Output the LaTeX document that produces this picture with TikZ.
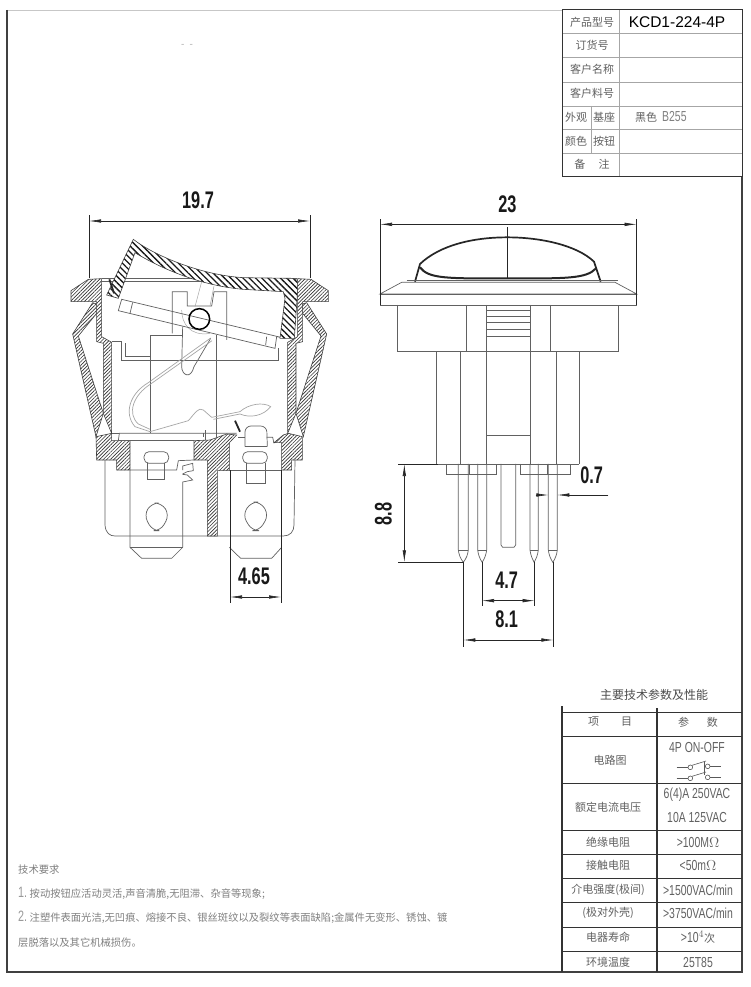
\documentclass[tikz,border=0pt]{standalone}
\usepackage{fontspec}
\usetikzlibrary{arrows.meta,patterns.meta}
\newfontfamily\cjk{Noto Sans CJK SC}
\newfontfamily\dimfont[FakeStretch=0.68]{Liberation Sans}
\newfontfamily\thinfont[FakeStretch=0.72]{Liberation Sans}
\setmainfont{Liberation Sans}
\colorlet{linegray}{black!62}
\colorlet{textgray}{black!62}
\tikzset{
    hatched/.style = {draw=black!75, line width=.6pt, preaction={fill=white}, pattern={Lines[angle=45,distance=2.5pt,line width=.65pt]}, pattern color=black!80},
    rockerhatch/.style = {draw=black!75, line width=.6pt, preaction={fill=white}, pattern={Lines[angle=-45,distance=4.4pt,line width=1.3pt]}, pattern color=black!90},
    part/.style = {draw=linegray, line width=.7pt},
    faint/.style = {draw=black!35, line width=.5pt},
    dimline/.style = {draw=black!85, line width=.6pt, {Latex[length=12pt,width=3.5pt]}-{Latex[length=12pt,width=3.5pt]}},
    extline/.style = {draw=black!85, line width=.6pt},
    dimlabel/.style = {font=\dimfont\bfseries\fontsize{24}{24}\selectfont, text=black!90, inner sep=0pt},
    cell/.style = {font=\cjk\fontsize{11}{11}\selectfont, text=textgray, inner sep=0pt},
    headcell/.style = {font=\cjk\fontsize{12}{12}\selectfont, text=black!70, inner sep=0pt},
    valcell/.style = {font=\thinfont\fontsize{14.5}{14.5}\selectfont, text=textgray, inner sep=0pt},
    notetext/.style = {font=\cjk\fontsize{10.3}{10.3}\selectfont, text=black!50, inner sep=0pt, anchor=west},
    gridthin/.style = {draw=black!35, line width=.8pt},
    gridbold/.style = {draw=black!80, line width=1pt},
}
\begin{document}
\begin{tikzpicture}[x=1pt,y=-1pt]
    \useasboundingbox (0,0) rectangle (750,987);
    \fill[white] (0,0) rectangle (750,987);
    % Frame
    \draw[draw=black!22, line width=1pt] (7,11) -- (562,11);
    \draw[draw=black!75, line width=1.2pt] (7,10) -- (7,972) -- (742,972) -- (742,177);
    \node[text=black!30, inner sep=0pt, font=\fontsize{10}{10}\selectfont] (smudge) at (187,46) {-\,\,\,-};

    % Title table
    \foreach \y in {33,57,82,106,129,153} \draw[gridthin] (562,\y) -- (742,\y);
    \draw[gridthin] (619,10) -- (619,177);
    \draw[gridthin] (591,106) -- (591,153);
    \draw[gridbold] (562,10) rectangle (742,177);
    \node[cell] (tname) at (592,22) {产品型号};
    \node[inner sep=0pt, font=\fontsize{15.5}{15.5}\selectfont] (tmodel) at (677,22) {KCD1-224-4P};
    \node[cell] (torder) at (592,45) {订货号};
    \node[cell] (tclient) at (592,69) {客户名称};
    \node[cell] (tcode) at (592,93) {客户料号};
    \node[cell] (tlooka) at (576,117) {外观};
    \node[cell] (tlookb) at (576,141) {颜色};
    \node[cell] (tbase) at (604,117) {基座};
    \node[cell] (tbtn) at (604,141) {按钮};
    \node[cell] (tnote) at (592,164) {备\hspace{1.2em}注};
    \node[cell, anchor=west] (tcolor) at (635,117) {黑色};
    \node[valcell, anchor=west, text=black!50] (tpaint) at (662,117) {B255};

    % Side view, upper part
    \begin{scope}[shift={(60,180)},x=.33333pt,y=-.33333pt]
        % Frame lines under the rocker
        \draw[part] (125,295) -- (712,295);
        \draw[part] (125,305) -- (712,305);
        \draw[part] (155,485) -- (185,485) -- (185,540) -- (655,540) -- (655,505);
        \draw[part] (195,490) -- (195,530) -- (270,530);
        \draw[part] (500,480) -- (500,335) -- (462,335) -- (455,378) -- (382,378) -- (382,335) -- (337,335) -- (337,460);
        \draw[faint] (425,305) -- (405,380);
        \draw[faint] (462,318) -- (450,378);
        \draw[faint] (365,390) .. controls (365,430) and (390,470) .. (450,460);
        % Contact carrier
        \draw[part] (270,760) -- (270,465) -- (370,465);
        \draw[part] (470,770) -- (470,465);
        \draw[part] (368,440) -- (365,560) .. controls (365,585) and (392,600) .. (402,560) -- (452,475);
        % Spring
        \draw[faint, line width=.7pt] (452,474) -- (265,608) .. controls (210,640) and (190,700) .. (225,740) -- (270,755) -- (385,722) .. controls (405,700) and (415,680) .. (430,690) -- (455,712) -- (540,695) .. controls (565,672) and (610,665) .. (632,680) .. controls (610,708) and (570,715) .. (540,702) -- (460,718);
        \draw[faint, line width=.7pt] (456,482) -- (272,612) .. controls (220,645) and (200,700) .. (235,732) -- (270,748);
        % Rocker plate
        \draw[part] (185,358) -- (675,475) -- (650,470) -- (645,505) -- (175,392) -- cycle;
        \draw[part] (218,367) -- (210,400);
        \draw[part] (620,470) -- (617,495);
        % Rocker
        \draw[rockerhatch] (220,178) .. controls (280,225) and (420,285) .. (550,293) -- (700,295) -- (715,303) -- (703,475) -- (660,475) -- (675,355) -- (670,335) -- (550,328) .. controls (430,318) and (310,270) .. (225,218) -- (175,355) -- (140,345) -- cycle;
        \draw[line width=1.8pt, black!85] (148,298) -- (162,340);
        \draw[line width=1.8pt, black!85] (525,722) -- (540,755);
        % Pivot
        \draw[line width=1.5pt, black] (418,417) circle (31);
        % Housing wall and clip, both sides
        \foreach \mx/\ms in {0/1,838/-1} {
            \begin{scope}[shift={(\mx,0)},xscale=\ms]
                \draw[hatched] (33,332) -- (85,298) -- (125,296) -- (125,470) -- (155,487) -- (155,760) -- (130,700) -- (130,490) -- (110,485) -- (110,365) -- (33,365) -- cycle;
                \draw[hatched] (98,368) -- (110,372) -- (110,400) -- (55,468) -- (130,700) -- (108,770) -- (38,462) -- cycle;
            \end{scope}
        }
        \draw[part] (530,760) -- (178,760) -- (175,782);
        \draw[part] (155,760) -- (178,760);
        \draw[part] (430,770) -- (430,760);
        % Top box of the right slider
        \draw[part, rounded corners=6pt] (555,800) -- (555,738) -- (620,738) -- (622,800);
        \draw[part] (555,772) -- (535,772);
        \draw[part] (620,772) -- (638,772) -- (642,790);
        \draw[part] (555,800) -- (622,800);
    \end{scope}

    % Side view, lower part
    \begin{scope}[shift={(70,430)},x=.33333pt,y=-.33333pt]
        % Housing skirt
        \draw[part] (105,90) -- (105,285) .. controls (107,310) and (120,318) .. (135,318) -- (640,318) .. controls (660,318) and (672,305) .. (672,285) -- (675,90);
        % Hatched base
        \draw[hatched] (78,20) -- (125,10) -- (125,32) -- (180,32) -- (180,120) -- (140,120) -- (140,90) -- (80,90) -- cycle;
        \draw[hatched] (372,32) -- (420,30) -- (470,12) -- (500,15) -- (478,38) -- (478,122) -- (442,122) -- (442,318) -- (412,318) -- (412,90) -- (372,90) -- cycle;
        \draw[hatched] (697,20) -- (697,90) -- (665,90) -- (665,120) -- (635,120) -- (635,38) -- (612,38) -- (640,15) -- (655,10) -- cycle;
        \draw[part] (148,32) -- (372,32);
        \draw[part] (405,0) -- (405,30);
        % Left terminal
        \draw[part] (180,120) -- (320,120) -- (325,92) -- (372,90);
        \draw[part] (338,120) -- (338,108) -- (368,100) -- (370,122) -- (352,125) -- (338,132) -- (338,133) -- (352,135) -- (368,150) -- (338,156) -- (338,352) -- (305,385) -- (215,385) -- (180,352) -- (180,120);
        \draw[part] (180,352) -- (338,352);
        \draw[part, rounded corners=5pt] (222,100) -- (222,65) -- (296,65) -- (296,100) -- cycle;
        \draw[part] (232,100) -- (232,148) -- (283,148) -- (283,100);
        \draw[part, rounded corners=7pt] (245,219) -- (275,219) -- (298,255) -- (272,302) -- (247,302) -- (222,255) -- cycle;
        % Right terminal
        \draw[part] (478,120) -- (635,120);
        \draw[part] (478,352) -- (512,385) -- (605,385) -- (635,352);
        \draw[part, rounded corners=5pt] (518,100) -- (518,65) -- (592,65) -- (592,100) -- cycle;
        \draw[part] (528,100) -- (528,160) -- (585,160) -- (585,100);
        \draw[part, rounded corners=7pt] (543,216) -- (572,216) -- (596,255) -- (568,302) -- (546,302) -- (518,255) -- cycle;
    \end{scope}

    % Dimension 19.7
    \coordinate (wl) at (89,221);
    \coordinate (wr) at (310,221);
    \draw[extline] (89,215) -- (89,278);
    \draw[extline] (310,215) -- (310,278);
    \draw[dimline] (wl) -- (wr);
    \node[dimlabel] (wtext) at (198,200) {19.7};
    % Dimension 4.65
    \coordinate (tl) at (230,597);
    \coordinate (tr) at (281,597);
    \draw[extline] (230,470) -- (230,603);
    \draw[extline] (281,470) -- (281,603);
    \draw[dimline] (tl) -- (tr);
    \node[dimlabel] (ttext) at (254,576) {4.65};

    % Front view
    \begin{scope}[shift={(370,180)},x=.33333pt,y=-.33333pt]
        % Dome
        \draw[line width=1.7pt, black!85] (135,305) -- (150,252) .. controls (210,195) and (310,172) .. (412,172) .. controls (510,172) and (620,195) .. (672,245) -- (692,305);
        \draw[line width=2pt, black!85] (150,262) .. controls (175,296) and (230,296) .. (412,295) .. controls (590,296) and (650,296) .. (678,265);
        \draw[line width=.9pt, black!85] (412,142) -- (412,295);
        % Flange
        \draw[part] (110,300) -- (745,300);
        \draw[part] (30,342) -- (95,307) -- (735,307) -- (800,342) -- cycle;
        \draw[part] (30,342) rectangle (800,375);
        % Body
        \draw[part] (82,375) -- (82,515) -- (745,515) -- (745,375);
        \foreach \x in {288,540} \draw[part] (\x,375) -- (\x,515);
        \foreach \x in {348,480} \draw[part] (\x,375) -- (\x,852);
        \foreach \x in {200,270,560,628} \draw[part] (\x,515) -- (\x,852);
        \foreach \y in {390,410,428,447,468,765} \draw[part] (348,\y) -- (480,\y);
        % Base line and tabs
        \draw[part] (200,852) -- (628,852);
        \draw[part] (228,852) -- (228,883) -- (380,883) -- (380,852);
        \draw[part] (450,852) -- (450,883) -- (600,883) -- (600,852);
        \foreach \x in {298,532} \draw[part] (\x,852) -- (\x,883);
        % Pins
        \foreach \a/\b in {265/295,323/350,480/505,535/562} {
            \draw[part] (\a,852) -- (\a,1110) .. controls (\a+2,1125) and (\a+6,1135) .. ({(\a+\b)/2},1147) .. controls (\b-6,1135) and (\b-2,1125) .. (\b,1110) -- (\b,852);
            \draw[part] (\a,1110) -- (\b,1110);
        }
        % Centre blade
        \draw[part] (393,852) -- (393,1095) -- (398,1102) -- (432,1102) -- (437,1095) -- (437,852);
        % Dimension 23
        \coordinate (dl) at (30,133);
        \coordinate (dr) at (800,133);
        \draw[extline] (30,118) -- (30,375);
        \draw[extline] (800,118) -- (800,375);
        \draw[dimline] (dl) -- (dr);
        \node[dimlabel] (dtext) at (412,72) {23};
        % Dimension 8.8
        \coordinate (ht) at (103,852);
        \coordinate (hb) at (103,1147);
        \draw[extline] (85,852) -- (205,852);
        \draw[extline] (85,1147) -- (278,1147);
        \draw[dimline] (ht) -- (hb);
        \node[dimlabel, rotate=90] (htext) at (40,1002) {8.8};
        % Dimension 0.7
        \coordinate (pa) at (535,945);
        \coordinate (pb) at (562,945);
        \coordinate (pc) at (497,945);
        \coordinate (pd) at (715,945);
        \draw[extline, -{Latex[length=12pt,width=3.5pt]}] (pc) -- (pa);
        \draw[extline, -{Latex[length=12pt,width=3.5pt]}] (pd) -- (pb);
        \node[dimlabel] (ptext) at (665,885) {0.7};
        % Dimension 4.7
        \coordinate (ma) at (336,1262);
        \coordinate (mb) at (494,1262);
        \draw[extline] (336,1147) -- (336,1278);
        \draw[extline] (494,1147) -- (494,1278);
        \draw[dimline] (ma) -- (mb);
        \node[dimlabel] (mtext) at (410,1202) {4.7};
        % Dimension 8.1
        \coordinate (oa) at (280,1380);
        \coordinate (ob) at (550,1380);
        \draw[extline] (280,1147) -- (280,1400);
        \draw[extline] (550,1147) -- (550,1400);
        \draw[dimline] (oa) -- (ob);
        \node[dimlabel] (otext) at (410,1318) {8.1};
    \end{scope}

    % Parameter table
    \node[headcell] (ptitle) at (654,695) {主要技术参数及性能};
    \foreach \y in {712,736,783,830,854,878,902,927,951} \draw[gridbold] (562,\y) -- (742,\y);
    \draw[gridbold, line width=1.2pt] (562,706) -- (562,972);
    \draw[gridbold, line width=1.2pt] (657,708) -- (657,972);
    \node[cell] (pa1) at (610,722) {项\hspace{2em}目};
    \node[cell] (pa2) at (698,722) {参\hspace{1.6em}数};
    \node[cell] (pb1) at (610,760) {电路图};
    \node[valcell] (pb2) at (697,747) {4P ON-OFF};
    \node[cell] (pc1) at (608,807) {额定电流电压};
    \node[valcell] (pc2) at (697,795) {6(4)A 250VAC};
    \node[valcell] (pc3) at (697,817) {10A 125VAC};
    \node[cell] (pd1) at (608,842) {绝缘电阻};
    \node[valcell] (pd2) at (698,842) {>100M$\Omega$};
    \node[cell] (pe1) at (608,865) {接触电阻};
    \node[valcell] (pe2) at (698,865) {<50m$\Omega$};
    \node[cell] (pf1) at (608,890) {介电强度(极间)};
    \node[valcell] (pf2) at (698,890) {>1500VAC/min};
    \node[cell] (pg1) at (608,913) {(极对外壳)};
    \node[valcell] (pg2) at (698,913) {>3750VAC/min};
    \node[cell] (ph1) at (608,937) {电器寿命};
    \node[valcell] (ph2) at (698,937) {>10$^{4}${\cjk\fontsize{11}{11}\selectfont 次}};
    \node[cell] (pi1) at (608,962) {环境温度};
    \node[valcell] (pi2) at (698,962) {25T85};

    % Circuit symbol
    \begin{scope}[shift={(550,680)},x=.33333pt,y=-.33333pt, every path/.style={draw=black!65, line width=.6pt}]
        \foreach \y in {262,295} {
            \draw (380,\y) -- (414,\y);
            \draw (421,\y) circle (7);
            \draw (426,\y-6) -- (468,\y-19);
            \draw (473,\y-3) circle (7);
            \draw (480,\y-3) -- (512,\y-3);
        }
        \draw (462,245) -- (462,285);
    \end{scope}

    % Notes
    \node[notetext] (nhead) at (18,870) {技术要求};
    \node[notetext] (none) at (18,893) {{\thinfont\fontsize{15}{15}\selectfont\color{black!40}1.\,}按动按钮应活动灵活,声音清脆,无阻滞、杂音等现象;};
    \node[notetext] (ntwo) at (18,917) {{\thinfont\fontsize{15}{15}\selectfont\color{black!40}2.\,}注塑件表面光洁,无凹痕、熔接不良、银丝斑纹以及裂纹等表面缺陷;金属件无变形、锈蚀、镀};
    \node[notetext] (nthree) at (18,943) {层脱落以及其它机械损伤。};
\end{tikzpicture}
\end{document}
